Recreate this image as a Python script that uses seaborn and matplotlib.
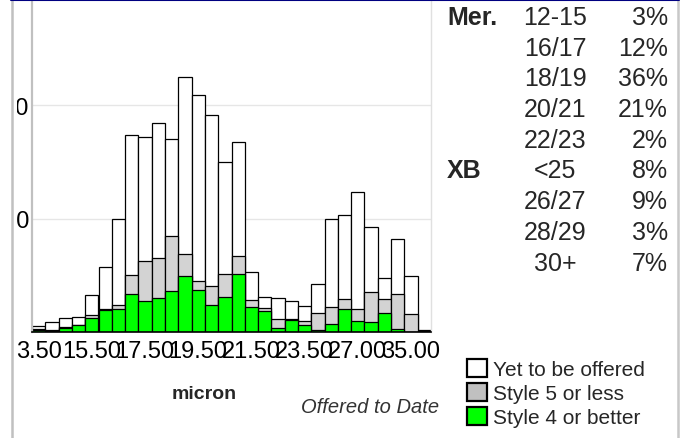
import matplotlib
matplotlib.use("Agg")
import matplotlib.pyplot as plt
import seaborn as sns
from matplotlib.patches import Patch, Rectangle
from matplotlib.lines import Line2D

# ---------------------------------------------------
# Data
# ---------------------------------------------------

bins = ["3.50", "14.00", "14.50", "15.00", "15.50", "16.00", "16.50", "17.00",
        "17.50", "18.00", "18.50", "19.00", "19.50", "20.00", "20.50", "21.00",
        "21.50", "22.00", "22.50", "23.00", "23.50", "24.50", "25.50", "26.50",
        "27.00", "28.00", "29.00", "30.00", "35.00", "40.00"]

# stacked tops: total offered+unoffered, style 5 or less (cumulative), style 4 or better
total = [5, 8.8, 12.4, 13.2, 33, 57, 100, 173.8, 172, 184.4, 170.3, 224.7, 209.4,
         191.8, 150, 167.6, 52.6, 30.6, 29.7, 27.6, 23, 42, 99.4, 103.5, 124, 93,
         47.6, 82, 49.4, 2]
style5 = [3, 2, 4.4, 6.5, 15.3, 20, 23.5, 50, 62.4, 65.3, 84.4, 68.8, 45.3, 40.6,
          51.2, 67, 28.5, 21.2, 11.2, 11.2, 9.4, 16.5, 21.8, 28.8, 20.6, 35, 28.8,
          33.5, 15.9, 1]
style4 = [1.5, 1, 3.5, 5.9, 12.4, 19.1, 20.6, 33.2, 27.6, 30, 36.5, 49.4, 37, 24.1,
          30.9, 51.2, 22, 18.5, 3.5, 10.9, 6.5, 1.5, 7.4, 20.6, 10, 9.1, 17, 2.9,
          0.3, 0.3]

y_ticks = [100, 200]

table_group = ["Mer.", "", "", "", "", "XB", "", "", ""]
table_range = ["12-15", "16/17", "18/19", "20/21", "22/23", "<25", "26/27", "28/29", "30+"]
table_pct = ["3%", "12%", "36%", "21%", "2%", "8%", "9%", "3%", "7%"]

legend_labels = ["Yet to be offered", "Style 5 or less", "Style 4 or better"]

# ---------------------------------------------------
# Theme
# ---------------------------------------------------

sns.set_theme(style="white")
plt.rcParams["font.family"] = ["Liberation Sans", "DejaVu Sans"]

GREEN = "#00ff00"
GREY = "#d3d3d3"
W, H = 683, 439


def fx(px):
    return px / W


def fy(py):
    return 1 - py / H


fig = plt.figure(figsize=(6.83, 4.39), dpi=100)
ax = fig.add_axes([fx(32), fy(333), fx(431) - fx(32), fy(0) - fy(333)])

for vals, col in [(total, "white"), (style5, GREY), (style4, GREEN)]:
    sns.barplot(x=bins, y=vals, order=bins, color=col, saturation=1,
                edgecolor="black", linewidth=0.9, width=1.0, ax=ax)

ax.set_xlim(-0.5, len(bins) - 0.5)
ax.set_ylim(0, 294)
ax.set_yticks(y_ticks)
ax.set_yticklabels([str(v) for v in y_ticks])
ax.set_xticks(range(0, len(bins), 4))
ax.set_xticklabels(bins[::4])
ax.tick_params(axis="both", length=0, labelsize=17, colors="black")
ax.tick_params(axis="y", pad=2)
ax.tick_params(axis="x", pad=6)
ax.set_xlabel("")
ax.set_ylabel("")
ax.grid(axis="y", color="#e6e6e6", linewidth=1)
ax.set_axisbelow(True)

ax.spines["left"].set_color("#c0c0c0")
ax.spines["left"].set_linewidth(1.6)
ax.spines["right"].set_color("#e0e0e0")
ax.spines["right"].set_linewidth(1)
ax.spines["top"].set_visible(False)
ax.spines["bottom"].set_color("black")
ax.spines["bottom"].set_linewidth(1.2)

# mask the clipped y tick labels and draw the page frame
fig.add_artist(Rectangle((0, 0), fx(17), 1, transform=fig.transFigure,
                         facecolor="white", edgecolor="none", zorder=5))
fig.add_artist(Line2D([fx(12), fx(12)], [0, 1], color="#c0c0c0", lw=1.8, zorder=6))
fig.add_artist(Line2D([fx(678), fx(678)], [0, 1], color="#c8c8c8", lw=1.8, zorder=6))
fig.add_artist(Line2D([fx(11), fx(679)], [fy(0.5), fy(0.5)], color="#000080", lw=1.5, zorder=6))

# axis captions
fig.text(fx(204), fy(395), "micron", ha="center", va="center",
         fontsize=14, fontweight="bold")
fig.text(fx(370), fy(408), "Offered to Date", ha="center", va="center",
         fontsize=14.5, style="italic", color="#333333")

# summary table
for i in range(len(table_range)):
    yc = fy(18 + 30.7 * i)
    if table_group[i]:
        fig.text(fx(447), yc, table_group[i], ha="left", va="center",
                 fontsize=18, fontweight="bold")
    fig.text(fx(555), yc, table_range[i], ha="center", va="center", fontsize=18)
    fig.text(fx(668), yc, table_pct[i], ha="right", va="center", fontsize=18)

# legend
handles = [Patch(facecolor=c, edgecolor="black", linewidth=1.6)
           for c in ["white", "#c0c0c0", GREEN]]
fig.legend(handles, legend_labels, loc="upper left",
           bbox_to_anchor=(fx(467), fy(360)), frameon=False, fontsize=15,
           handlelength=0.95, handleheight=0.95, handletextpad=0.3,
           labelspacing=0.18, borderaxespad=0, borderpad=0)

fig.savefig("out.png", dpi=100)
